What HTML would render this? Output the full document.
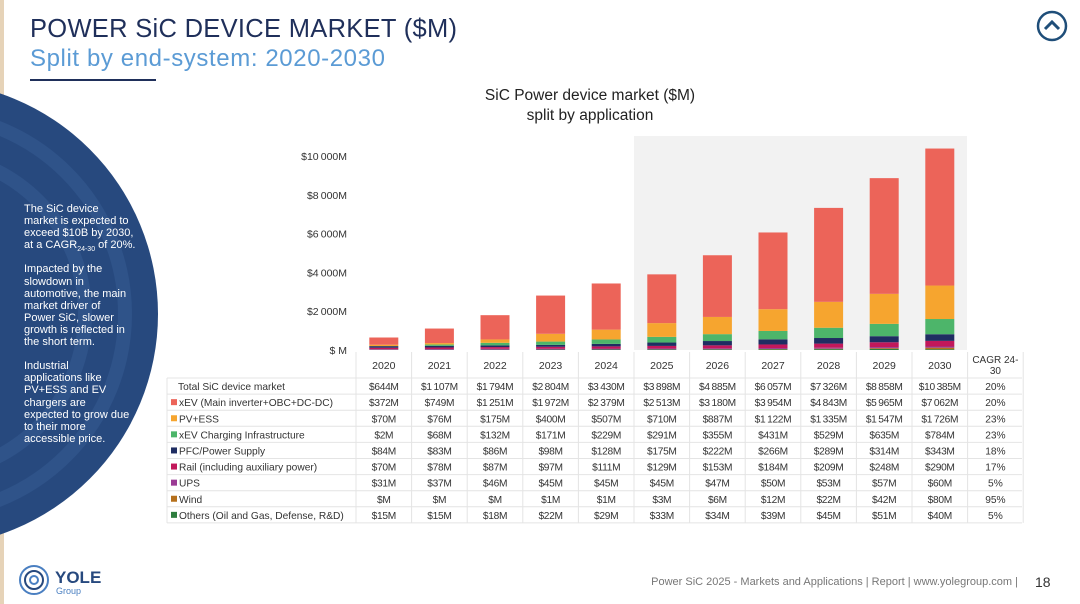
<!DOCTYPE html>
<html><head><meta charset="utf-8">
<style>
body{margin:0;width:1080px;height:604px;overflow:hidden;background:#fff;font-family:"Liberation Sans",sans-serif;position:relative}
.abs{position:absolute}
</style></head>
<body>
<div class="abs" style="left:0;top:0;width:4px;height:604px;background:#e6d3b8"></div>
<div class="abs" style="left:30px;top:15px;font-size:25.5px;color:#1f2f5a;letter-spacing:0.3px">POWER SiC DEVICE MARKET ($M)</div>
<div class="abs" style="left:30px;top:45px;font-size:24px;color:#5b9bd5;letter-spacing:0.6px">Split by end-system: 2020-2030</div>
<div class="abs" style="left:30px;top:79px;width:126px;height:2px;background:#1f2f5a"></div>
<svg class="abs" style="left:1036px;top:10px" width="32" height="32"><circle cx="16" cy="16" r="14" fill="none" stroke="#1f4e79" stroke-width="2.5"/><path d="M9 19 L16 12 L23 19" fill="none" stroke="#1f4e79" stroke-width="3"/></svg>
<svg class="abs" style="left:0;top:0" width="170" height="604">
<circle cx="-75" cy="314" r="233" fill="#27497e"/>
<circle cx="-75" cy="314" r="200" fill="none" stroke="#2f5389" stroke-width="14"/>
<circle cx="-75" cy="314" r="160" fill="none" stroke="#2f5389" stroke-width="14"/>
</svg>
<div class="abs" style="left:24px;top:203px;width:140px;font-size:11px;line-height:12.1px;color:#fff;white-space:nowrap">
The SiC device<br>market is expected to<br>exceed $10B by 2030,<br>at a CAGR<sub style="font-size:7px;line-height:0">24-30</sub> of 20%.<br><br>Impacted by the<br>slowdown in<br>automotive, the main<br>market driver of<br>Power SiC, slower<br>growth is reflected in<br>the short term.<br><br>Industrial<br>applications like<br>PV+ESS and EV<br>chargers are<br>expected to grow due<br>to their more<br>accessible price.</div>
<div class="abs" style="left:440px;top:86px;width:300px;text-align:center;font-size:15.5px;line-height:20px;color:#222">SiC Power device market ($M)<br>split by application</div>
<svg class="abs" id="chart" style="left:0;top:0" width="1080" height="540"></svg>
<svg class="abs" style="left:18px;top:563px" width="100" height="36">
<circle cx="16" cy="17" r="14" fill="none" stroke="#4a7fc1" stroke-width="2"/><circle cx="16" cy="17" r="9" fill="none" stroke="#27497e" stroke-width="2"/><circle cx="16" cy="17" r="4" fill="none" stroke="#4a7fc1" stroke-width="2"/>
<text x="37" y="20" font-size="17" font-weight="bold" fill="#27497e" font-family="Liberation Sans">YOLE</text>
<text x="38" y="31" font-size="9" fill="#4a7fc1" font-family="Liberation Sans">Group</text></svg>
<div class="abs" style="left:560px;top:576px;width:458px;text-align:right;font-size:11px;color:#777">Power SiC 2025 - Markets and Applications | Report | www.yolegroup.com |</div>
<div class="abs" style="left:1035px;top:574px;font-size:14px;color:#333">18</div>
<script>
const years=['2020','2021','2022','2023','2024','2025','2026','2027','2028','2029','2030'];
const seriesNames=['xEV (Main inverter+OBC+DC-DC)','PV+ESS','xEV Charging Infrastructure','PFC/Power Supply','Rail (including auxiliary power)','UPS','Wind','Others (Oil and Gas, Defense, R&D)'];
const colors=['#ec6459','#f6a52f','#4db56a','#1f2d62','#c2185b','#9b3b94','#b5701c','#2e7d3e'];
const xev=[372,749,1251,1972,2379,2513,3180,3954,4843,5965,7062];
const pv=[70,76,175,400,507,710,887,1122,1335,1547,1726];
const charging=[2,68,132,171,229,291,355,431,529,635,784];
const pfc=[84,83,86,98,128,175,222,266,289,314,343];
const rail=[70,78,87,97,111,129,153,184,209,248,290];
const ups=[31,37,46,45,45,45,47,50,53,57,60];
const wind=[0,0,0,1,1,3,6,12,22,42,80];
const others=[15,15,18,22,29,33,34,39,45,51,40];
const totals=[644,1107,1794,2804,3430,3898,4885,6057,7326,8858,10385];
const cagr=['20%','20%','23%','23%','18%','17%','5%','95%','5%'];
const yTicks=[0,2000,4000,6000,8000,10000];
const series=[xev,pv,charging,pfc,rail,ups,wind,others];
const svg=document.getElementById('chart');const NS='http://www.w3.org/2000/svg';
const colW=55.6,x0=356;
const X=i=>x0+colW*i+colW/2;
const Y=v=>350-v*(194/10000);
function el(t,a,txt){const e=document.createElementNS(NS,t);for(const k in a)e.setAttribute(k,a[k]);if(txt!==undefined)e.textContent=txt;svg.appendChild(e);return e;}
const fmt=v=>{if(v===0)return '$M';const s=String(v);return '$'+(s.length>3?s.slice(0,-3)+'\u2009'+s.slice(-3):s)+'M';};
let sh=el('rect',{x:634,y:136,width:333,height:214,fill:'#f2f2f2'});


yTicks.forEach(t=>{const lab=t===0?'$ M':'$'+(t/1000)+'\u2009000M';
 const g=el('text',{x:347,y:Y(t)+4,'text-anchor':'end','font-size':10.5,fill:'#333'},lab);
 
 });
const order=[7,6,5,4,3,2,1,0];
years.forEach((yr,i)=>{let acc=0;order.forEach(s=>{const v=series[s][i];
 const r=el('rect',{x:X(i)-14.5,y:Y(acc+v),width:29,height:Y(acc)-Y(acc+v),fill:colors[s]});
 
 
 acc+=v;});});
const tTop=352,hdrH=26,rowH=16.1,tLeft=167,tRight=1022;
function line(x1,y1,x2,y2){const l=el('line',{x1,y1,x2,y2,stroke:'#e4e4e4','stroke-width':1});
 
 }
const nRows=9,tBottom=tTop+hdrH+rowH*nRows;
for(let i=0;i<=12;i++){line(x0+colW*i,tTop,x0+colW*i,tBottom);}
line(tLeft,tTop+hdrH,tLeft,tBottom);
for(let r=0;r<=nRows;r++)line(tLeft,tTop+hdrH+rowH*r,tRight,tTop+hdrH+rowH*r);
years.forEach((yr,i)=>{const t=el('text',{x:X(i),y:tTop+17,'text-anchor':'middle','font-size':10.5,fill:'#333'},yr);
 
 });
let c1=el('text',{x:X(11),y:tTop+11,'text-anchor':'middle','font-size':10,fill:'#333'},'CAGR 24-');


let c2=el('text',{x:X(11),y:tTop+22,'text-anchor':'middle','font-size':10,fill:'#333'},'30');


const rowsData=[totals].concat(series);
const rowLabels=['Total SiC device market'].concat(seriesNames);
rowsData.forEach((vals,r)=>{const cy=tTop+hdrH+rowH*r+rowH/2+4;
 if(r>0){const sq=el('rect',{x:171,y:cy-7,width:6,height:6,fill:colors[r-1]});
  
  }
 const lb=el('text',{x:r>0?179:178,y:cy,'font-size':10.2,fill:'#333'},rowLabels[r]);
 
 
 vals.forEach((v,i)=>{const t=el('text',{x:X(i),y:cy,'text-anchor':'middle','font-size':10.2,fill:'#333','letter-spacing':'-0.3'},fmt(v));
  
  });
 const cg=el('text',{x:X(11),y:cy,'text-anchor':'middle','font-size':10.2,fill:'#333'},cagr[r]);
 
 
});
</script>
</body></html>
